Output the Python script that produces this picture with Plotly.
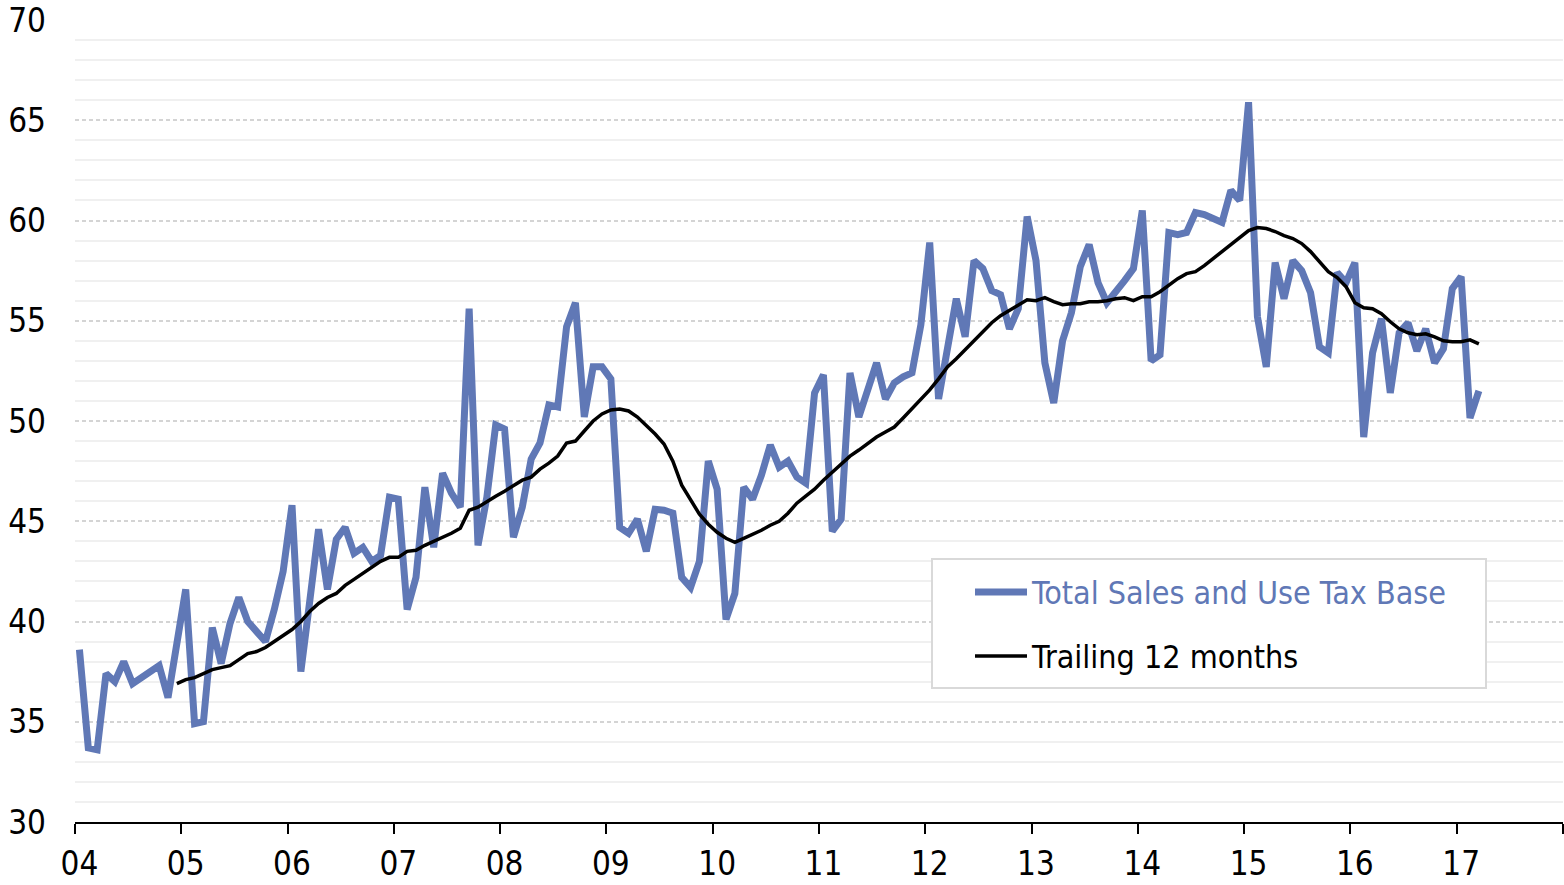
import plotly.graph_objects as go

# Monthly data, Jan 2004 .. Mar 2017
total_tax_base = [
    38.6, 33.7, 33.6, 37.4, 37.0, 38.0, 36.9, 37.2, 37.5, 37.8, 36.2, 38.9,   # 2004
    41.6, 34.9, 35.0, 39.7, 37.9, 39.9, 41.2, 40.0, 39.5, 39.0, 40.6, 42.5,   # 2005
    45.8, 37.5, 41.0, 44.6, 41.6, 44.1, 44.7, 43.4, 43.7, 43.0, 43.3, 46.2,   # 2006
    46.1, 40.6, 42.2, 46.7, 43.7, 47.4, 46.4, 45.7, 55.6, 43.8, 46.2, 49.8,   # 2007
    49.6, 44.2, 45.7, 48.1, 48.9, 50.8, 50.7, 54.7, 55.9, 50.2, 52.7, 52.7,   # 2008
    52.1, 44.7, 44.4, 45.1, 43.5, 45.6, 45.55, 45.4, 42.2, 41.7, 43.0, 48.0,  # 2009
    46.6, 40.1, 41.4, 46.7, 46.1, 47.3, 48.8, 47.7, 48.0, 47.2, 46.9, 51.4,   # 2010
    52.3, 44.5, 45.1, 52.4, 50.2, 51.6, 52.9, 51.1, 51.9, 52.2, 52.4, 54.8,   # 2011
    58.9, 51.1, 53.6, 56.1, 54.2, 58.0, 57.6, 56.5, 56.3, 54.6, 55.6, 60.2,   # 2012
    58.0, 52.9, 50.9, 54.0, 55.4, 57.7, 58.8, 56.9, 55.9, 56.4, 57.0, 57.6,   # 2013
    60.5, 53.0, 53.3, 59.4, 59.3, 59.4, 60.4, 60.3, 60.1, 59.9, 61.5, 61.0,   # 2014
    65.9, 55.2, 52.7, 57.9, 56.1, 58.0, 57.5, 56.4, 53.7, 53.4, 57.4, 56.9,   # 2015
    57.9, 49.2, 53.4, 55.1, 51.4, 54.4, 54.9, 53.5, 54.6, 52.9, 53.6, 56.6,   # 2016
    57.2, 50.15, 51.5,                                                         # 2017
]

# Trailing 12 months line, starts Dec 2004
trailing_12m = [None] * 11 + [
    36.9, 37.1, 37.2, 37.4, 37.6, 37.7, 37.8, 38.1, 38.4, 38.5,
    38.7, 39.0, 39.3, 39.6, 40.0, 40.5, 40.9, 41.2, 41.4, 41.8,
    42.1, 42.4, 42.7, 43.0, 43.2, 43.2, 43.5, 43.55, 43.8, 44.0,
    44.2, 44.4, 44.65, 45.55, 45.7, 46.0, 46.25, 46.5, 46.8, 47.05,
    47.2, 47.6, 47.9, 48.25, 48.9, 49.0, 49.5, 50.0, 50.35, 50.55,
    50.6, 50.5, 50.2, 49.8, 49.35, 48.85, 48.0, 46.8, 46.1, 45.35,
    44.85, 44.45, 44.15, 43.95, 44.15, 44.35, 44.55, 44.8, 45.0, 45.4,
    45.9, 46.25, 46.6, 47.05, 47.45, 47.85, 48.25, 48.55, 48.9, 49.2,
    49.45, 49.7, 50.15, 50.6, 51.05, 51.55, 52.1, 52.7, 53.1, 53.55,
    54.05, 54.5, 54.9, 55.25, 55.5, 55.8, 56.05, 56.0, 56.15, 55.95,
    55.8, 55.85, 55.85, 55.95, 55.95, 56.0, 56.1, 56.15, 56.0, 56.2,
    56.2, 56.45, 56.8, 57.1, 57.35, 57.45, 57.75, 58.1, 58.45, 58.8,
    59.1, 59.5, 59.65, 59.6, 59.45, 59.25, 59.1, 58.85, 58.45, 57.95,
    57.45, 57.15, 56.7, 55.9, 55.65, 55.6, 55.35, 54.95, 54.6, 54.4,
    54.3, 54.35, 54.2, 54.0, 53.95, 53.95, 54.05, 53.85,
]

year_ticks = list(range(2004, 2018))
year_labels = ["04", "05", "06", "07", "08", "09", "10", "11", "12", "13", "14", "15", "16", "17"]

series_names = ["Total Sales and Use Tax Base", "Trailing 12 months"]
BLUE = "#6078b6"
FONT = "DejaVu Sans Condensed, Liberation Sans, sans-serif"
FS = 33
FS_LEG = 32

# month centres: Jan 2004 is drawn at 2004 + 0.5/12
months = [2004 + (i + 0.5) / 12 for i in range(len(total_tax_base))]
# year labels sit under the January point, tick marks at year boundaries
label_pos = [y + 0.5 / 12 for y in year_ticks]

fig = go.Figure()
fig.add_trace(go.Scatter(x=months, y=total_tax_base, mode="lines", name=series_names[0],
                         line=dict(color=BLUE, width=7), showlegend=False))
fig.add_trace(go.Scatter(x=months, y=trailing_12m, mode="lines", name=series_names[1],
                         line=dict(color="black", width=3.5), showlegend=False))

W, H = 1564, 885
ml, mr, mt, mb = 75, 1, 20, 885 - 822
pw, ph = W - ml - mr, H - mt - mb


def px(xp):
    return (xp - ml) / pw


def py(yp):
    return (H - mb - yp) / ph


# legend box drawn to match the reference
fig.add_shape(type="rect", xref="paper", yref="paper",
              x0=px(932), x1=px(1486), y0=py(688), y1=py(559),
              line=dict(color="#d9d9d9", width=2), fillcolor="white", layer="above")
fig.add_shape(type="line", xref="paper", yref="paper",
              x0=px(975), x1=px(1027), y0=py(592), y1=py(592),
              line=dict(color=BLUE, width=7))
fig.add_shape(type="line", xref="paper", yref="paper",
              x0=px(975), x1=px(1027), y0=py(656), y1=py(656),
              line=dict(color="black", width=3.5))
fig.add_annotation(xref="paper", yref="paper", x=px(1029), y=py(593), text=series_names[0],
                   showarrow=False, xanchor="left", yanchor="middle",
                   font=dict(family=FONT, size=FS_LEG, color=BLUE))
fig.add_annotation(xref="paper", yref="paper", x=px(1029), y=py(657), text=series_names[1],
                   showarrow=False, xanchor="left", yanchor="middle",
                   font=dict(family=FONT, size=FS_LEG, color="black"))

fig.update_layout(
    width=W, height=H,
    margin=dict(l=ml, r=mr, t=mt, b=mb, pad=0, autoexpand=False),
    paper_bgcolor="white", plot_bgcolor="white",
    font=dict(family=FONT, size=FS, color="black"),
    showlegend=False,
    xaxis=dict(range=[2004, 2018], tickvals=label_pos, ticktext=year_labels,
               showgrid=False, zeroline=False, showline=True, linecolor="black", linewidth=2,
               ticks="outside", ticklen=10, tickwidth=2, tickcolor="rgba(0,0,0,0)",
               ticklabelstandoff=1, ticklabeloverflow="allow",
               tickfont=dict(family=FONT, size=FS, color="black"),
               minor=dict(tick0=2004, dtick=1, ticks="outside", ticklen=10, tickwidth=2,
                          tickcolor="black", showgrid=False)),
    yaxis=dict(range=[30, 70], dtick=5, tick0=30, showgrid=True, gridcolor="#d4d4d4",
               gridwidth=1.5, griddash="4px,3px", zeroline=False, showline=False,
               ticks="", ticklabelstandoff=28, ticklabeloverflow="allow",
               tickfont=dict(family=FONT, size=FS, color="black"),
               minor=dict(dtick=1, showgrid=True, gridcolor="#f0f0f0", gridwidth=2,
                          griddash="solid")),
)

# remove the default page margin so the figure fills the window exactly
fig.write_html("out.html", config={"displayModeBar": False},
               post_script="document.body.style.margin='0';document.body.style.overflow='hidden';")
